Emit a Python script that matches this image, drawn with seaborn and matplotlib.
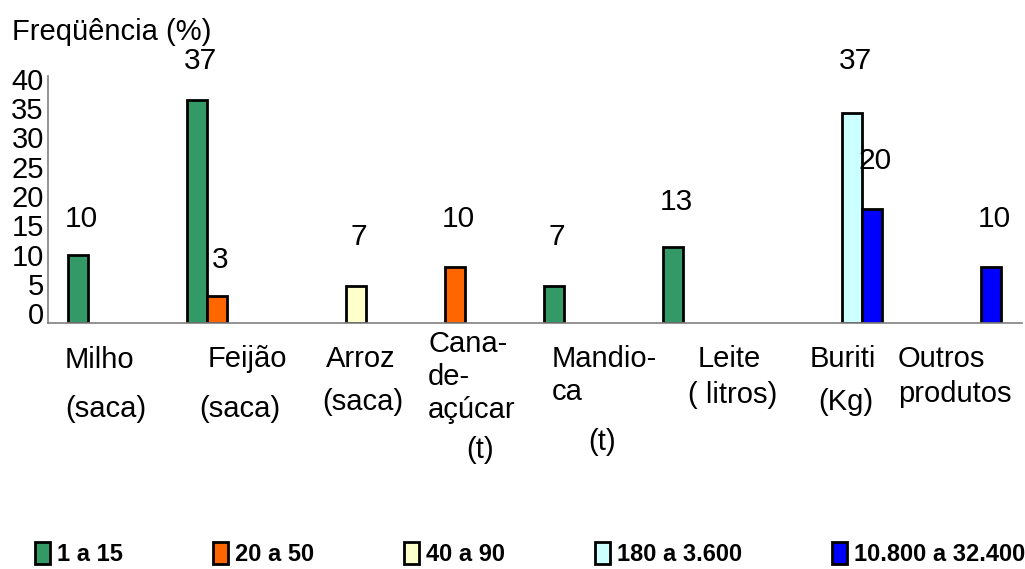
import numpy as np
import pandas as pd
import matplotlib
matplotlib.use("Agg")
import matplotlib.pyplot as plt
from matplotlib.patches import Patch
import seaborn as sns

# categorias do eixo x
produtos = ["Milho", "Feijão", "Arroz", "Cana-de-açúcar", "Mandioca", "Leite", "Buriti", "Outros produtos"]
# classes de quantidade (legenda)
classes = ["1 a 15", "20 a 50", "40 a 90", "180 a 3.600", "10.800 a 32.400"]
cores = ["#339966", "#FF6600", "#FFFFCC", "#CCFFFF", "#0000FF"]

# altura das barras como aparecem no grafico (None = sem barra)
alt_1a15 = [10, 36.4, None, None, 4.7, 11.2, None, None]
alt_20a50 = [None, 2.9, None, 7.9, None, None, None, None]
alt_40a90 = [None, None, 4.7, None, None, None, None, None]
alt_180a3600 = [None, None, None, None, None, None, 34.2, None]
alt_10800a32400 = [None, None, None, None, None, None, 17.8, 7.9]

# numeros escritos acima das barras
rot_1a15 = [10, 37, None, None, 7, 13, None, None]
rot_20a50 = [None, 3, None, 10, None, None, None, None]
rot_40a90 = [None, None, 7, None, None, None, None, None]
rot_180a3600 = [None, None, None, None, None, None, 37, None]
rot_10800a32400 = [None, None, None, None, None, None, 20, 10]

alturas = [alt_1a15, alt_20a50, alt_40a90, alt_180a3600, alt_10800a32400]
rotulos = [rot_1a15, rot_20a50, rot_40a90, rot_180a3600, rot_10800a32400]

linhas = []
for c, classe in enumerate(classes):
    for p, prod in enumerate(produtos):
        if alturas[c][p] is not None:
            linhas.append({"produto": prod, "classe": classe,
                           "freq": alturas[c][p], "rotulo": rotulos[c][p]})
df = pd.DataFrame(linhas)

# rotulos do eixo x, linha a linha (texto, x px, linha de base px, alinhamento)
xlab_linhas = [
    ("Milho", 65, 368, "left"), ("(saca)", 65, 417, "left"),
    ("Feijão", 208, 367, "left"), ("(saca)", 199, 417, "left"),
    ("Arroz", 326, 367, "left"), ("(saca)", 322, 410, "left"),
    ("Cana-", 428, 352, "left"), ("de-", 428, 385, "left"),
    ("açúcar", 428, 418, "left"), ("(t)", 480, 458, "center"),
    ("Mandio-", 552, 367, "left"), ("ca", 552, 400, "left"),
    ("(t)", 602, 450, "center"),
    ("Leite", 698, 367, "left"), ("( litros)", 688, 403, "left"),
    ("Buriti", 810, 367, "left"), ("(Kg)", 818, 410, "left"),
    ("Outros", 898, 367, "left"), ("produtos", 898, 402, "left"),
]

sns.set_style("white")
plt.rcParams["font.family"] = ["Liberation Sans", "DejaVu Sans"]
plt.rcParams["text.color"] = "black"
plt.rcParams["xtick.color"] = "black"
plt.rcParams["ytick.color"] = "black"
plt.rcParams["axes.labelcolor"] = "black"

W, H = 1025, 569
fig = plt.figure(figsize=(W / 100, H / 100), dpi=100)
ax = fig.add_axes([48 / W, (H - 323) / H, (1022 - 48) / W, (323 - 76) / H])

largura = 0.84
sns.barplot(data=df, x="produto", y="freq", hue="classe", order=produtos,
            hue_order=classes, palette=cores, saturation=1, width=largura,
            gap=0, errorbar=None, edgecolor="black", linewidth=2.0,
            legend=False, ax=ax)

y0 = -1.7
ax.set_ylim(y0, 40.5)
ax.set_xlim(-0.584, 7.6)

# barras descem ate a linha do eixo
for barra in ax.patches:
    topo = barra.get_y() + barra.get_height()
    barra.set_y(y0)
    barra.set_height(topo - y0)

# numeros acima das barras
passo = largura / len(classes)
for _, r in df.iterrows():
    xc = produtos.index(r["produto"]) + (classes.index(r["classe"]) - (len(classes) - 1) / 2) * passo
    ax.text(xc + 0.03, r["rotulo"] + 6, str(int(r["rotulo"])), ha="center",
            va="center", fontsize=21.5)

ax.set_xlabel("")
ax.set_ylabel("")
ax.set_xticks(np.arange(0.5, len(produtos), 1))
ax.set_xticklabels([])
ax.set_xticks([-0.42], minor=True)
ax.tick_params(axis="x", which="major", direction="in", length=10, color="#333333")
ax.tick_params(axis="x", which="minor", direction="out", length=9, color="#333333")
ax.set_yticks(range(0, 41, 5))
ax.tick_params(axis="y", direction="in", length=5, labelsize=21, pad=3,
               color="#333333", labelcolor="black")

for lado in ["top", "right"]:
    ax.spines[lado].set_visible(False)
for lado in ["left", "bottom"]:
    ax.spines[lado].set_color("#808080")
    ax.spines[lado].set_linewidth(1.2)

for texto, xp, yp, ha in xlab_linhas:
    fig.text(xp / W, 1 - yp / H, texto, fontsize=21, ha=ha, va="baseline")

fig.text(12 / W, 1 - 40 / H, "Freqüência (%)", fontsize=21, va="baseline")

alcas = [Patch(facecolor=c, edgecolor="black", linewidth=2.0) for c in cores]
fig.legend(alcas, classes, loc="lower left", bbox_to_anchor=(35 / W, 3 / H),
           ncol=5, frameon=False, prop={"weight": "bold", "size": 17},
           handlelength=0.64, handleheight=1.1, handletextpad=0.3,
           columnspacing=3.8, borderpad=0, borderaxespad=0)

fig.savefig("out.png", dpi=100)
